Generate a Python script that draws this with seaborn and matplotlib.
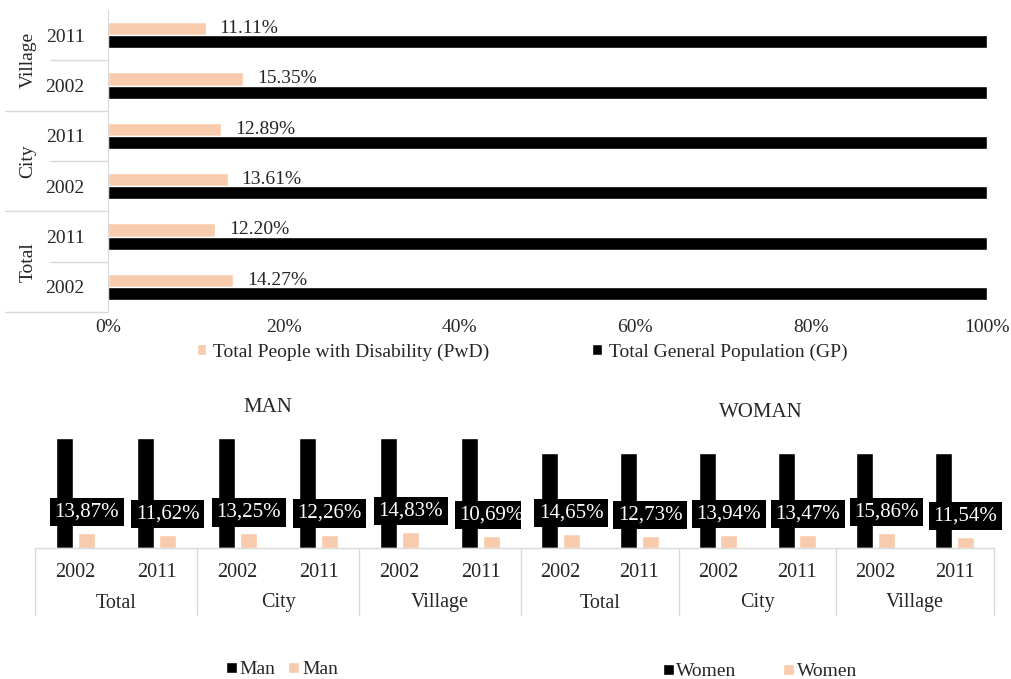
import matplotlib
matplotlib.use("Agg")
import matplotlib.pyplot as plt
import matplotlib.transforms as mtransforms
import pandas as pd
import seaborn as sns

# ---------------- data ----------------
top_groups = ["Village", "Village", "City", "City", "Total", "Total"]
top_years = ["2011", "2002", "2011", "2002", "2011", "2002"]
top_pwd = [11.11, 15.35, 12.89, 13.61, 12.20, 14.27]
top_gp = [100, 100, 100, 100, 100, 100]
top_series = ["Total People with Disability (PwD)", "Total General Population (GP)"]
top_ticks = [0, 20, 40, 60, 80, 100]

bottom_groups = ["Total", "Total", "City", "City", "Village", "Village"]
bottom_years = ["2002", "2011", "2002", "2011", "2002", "2011"]
man_gp = [100, 100, 100, 100, 100, 100]
man_pwd = [13.87, 11.62, 13.25, 12.26, 14.83, 10.69]
woman_gp = [100, 100, 100, 100, 100, 100]
woman_pwd = [14.65, 12.73, 13.94, 13.47, 15.86, 11.54]
bottom_series = ["GP", "PwD"]
man_legend = ["Man", "Man"]
woman_legend = ["Women", "Women"]

# ---------------- style ----------------
BLACK = "#000000"
PEACH = "#F8CBAD"
GRID = "#D9D9D9"
TEXT = "#262626"

sns.set_style("white")
plt.rcParams["font.family"] = ["Liberation Serif", "DejaVu Serif"]

W, H = 1011, 679
fig = plt.figure(figsize=(W / 100, H / 100), dpi=100)


def fx(px):
    return px / W


def fy(py):
    return 1 - py / H


# ---------------- top chart ----------------
ax = fig.add_axes([fx(108), fy(312), fx(987) - fx(108), fy(10) - fy(312)])
keys = [f"{g} {y}" for g, y in zip(top_groups, top_years)]
df_top = pd.DataFrame({
    "row": keys + keys,
    "value": top_pwd + top_gp,
    "series": [top_series[0]] * len(keys) + [top_series[1]] * len(keys),
})
sns.barplot(data=df_top, x="value", y="row", hue="series", hue_order=top_series,
            order=keys, palette=[PEACH, BLACK], orient="h", width=0.52,
            dodge=True, saturation=1, errorbar=None, ax=ax)
handles, labels = ax.get_legend_handles_labels()
if ax.get_legend() is not None:
    ax.get_legend().remove()
ax.set_xlim(0, 100)
ax.set_ylim(len(keys) - 0.5, -0.5)
ax.set_xticks(top_ticks)
ax.set_xticklabels([f"{t}%" for t in top_ticks])
ax.set_yticks(range(len(keys)))
ax.set_yticklabels(top_years)
ax.set_xlabel("")
ax.set_ylabel("")
ax.tick_params(axis="both", length=0, labelsize=14, colors=TEXT)
ax.tick_params(axis="x", pad=5)
ax.tick_params(axis="y", pad=17)
for s in ["top", "right", "bottom"]:
    ax.spines[s].set_visible(False)
ax.spines["left"].set_color(GRID)
ax.grid(False)

ax.bar_label(ax.containers[0], fmt="{:.2f}%", padding=10, fontsize=14, color=TEXT)

trans_top = mtransforms.blended_transform_factory(fig.transFigure, ax.transData)
for yv in [0.5, 2.5, 4.5]:
    ax.plot([fx(50), fx(108)], [yv, yv], color=GRID, lw=1, transform=trans_top, clip_on=False)
for yv in [1.5, 3.5, 5.5]:
    ax.plot([fx(5), fx(108)], [yv, yv], color=GRID, lw=1, transform=trans_top, clip_on=False)
uniq = []
for g in top_groups:
    if g not in uniq:
        uniq.append(g)
for k, g in enumerate(uniq):
    ax.text(fx(28), 2 * k + 0.5, g, rotation=90, ha="center", va="center",
            fontsize=14, color=TEXT, transform=trans_top)

fig.legend(handles, labels, loc="center", bbox_to_anchor=(fx(522), fy(352)), ncol=2,
           frameon=False, fontsize=14, handlelength=0.5, handleheight=0.5,
           handletextpad=0.35, columnspacing=5.3, labelcolor=TEXT)


# ---------------- bottom charts ----------------
def draw_bottom(left, right, top, gp, pwd, legend_labels, title, title_xy, legend_xy, colsp,
                draw_left_edge=True):
    axb = fig.add_axes([fx(left), fy(548), fx(right) - fx(left), fy(top) - fy(548)])
    bkeys = [f"{g} {y}" for g, y in zip(bottom_groups, bottom_years)]
    df = pd.DataFrame({
        "cat": bkeys + bkeys,
        "value": gp + pwd,
        "series": [bottom_series[0]] * len(bkeys) + [bottom_series[1]] * len(bkeys),
    })
    sns.barplot(data=df, x="cat", y="value", hue="series", hue_order=bottom_series,
                order=bkeys, palette=[BLACK, PEACH], width=0.55, gap=0.22,
                saturation=1, errorbar=None, ax=axb)
    h, _ = axb.get_legend_handles_labels()
    if axb.get_legend() is not None:
        axb.get_legend().remove()
    axb.set_xlim(-0.5, len(bkeys) - 0.5)
    axb.set_ylim(0, 100)
    axb.set_yticks([])
    axb.set_xticks(range(len(bkeys)))
    axb.set_xticklabels(bottom_years)
    axb.set_xlabel("")
    axb.set_ylabel("")
    axb.tick_params(axis="x", length=0, pad=11, labelsize=14.5, colors=TEXT)
    for s in axb.spines.values():
        s.set_visible(False)
    axb.grid(False)

    axb.plot([-0.5, len(bkeys) - 0.5], [0, 0], color=GRID, lw=1, clip_on=False)
    tr = mtransforms.blended_transform_factory(axb.transData, fig.transFigure)
    edges = [-0.5, 1.5, 3.5, 5.5] if draw_left_edge else [1.5, 3.5, 5.5]
    for xv in edges:
        axb.plot([xv, xv], [fy(548), fy(615)], color=GRID, lw=1, transform=tr, clip_on=False)
    for k in range(3):
        axb.text(2 * k + 0.5, fy(603), bottom_groups[2 * k], ha="center", va="center",
                 fontsize=14.5, color=TEXT, transform=tr)

    for bar in axb.containers[1]:
        hv = bar.get_height()
        xc = bar.get_x() + bar.get_width() / 2
        axb.annotate(f"{hv:.2f}%".replace(".", ","), xy=(xc, hv), xytext=(0, 21),
                     textcoords="offset pixels", ha="center", va="center",
                     color="white", fontsize=15,
                     bbox=dict(boxstyle="square,pad=0.22", fc="black", ec="none"),
                     annotation_clip=False, zorder=5)

    fig.text(fx(title_xy[0]), fy(title_xy[1]), title, ha="center", va="center",
             fontsize=15, color=TEXT)
    fig.legend(h, legend_labels, loc="center", bbox_to_anchor=(fx(legend_xy[0]), fy(legend_xy[1])),
               ncol=2, frameon=False, fontsize=14, handlelength=0.55, handleheight=0.55,
               handletextpad=0.15, columnspacing=colsp, labelcolor=TEXT)
    return axb


draw_bottom(35, 521, 438, man_gp, man_pwd, man_legend, "MAN", (268, 407), (282, 670), 0.65)
draw_bottom(521, 994, 453, woman_gp, woman_pwd, woman_legend, "WOMAN", (761, 413), (760, 672), 2.4,
            draw_left_edge=False)

fig.savefig("out.png", dpi=100)
